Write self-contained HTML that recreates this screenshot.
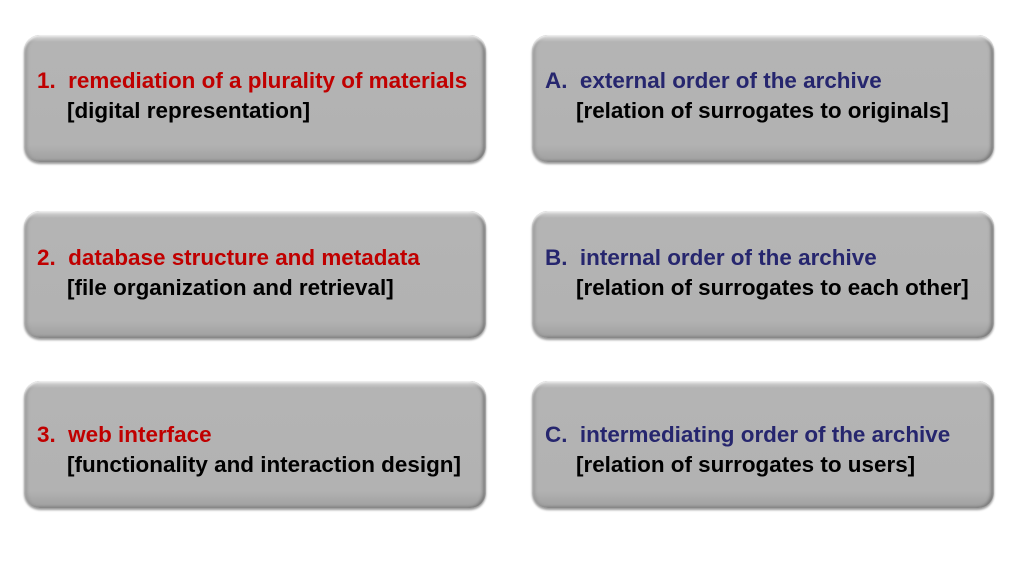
<!DOCTYPE html>
<html><head><meta charset="utf-8">
<style>
body{margin:0;width:1021px;height:572px;background:#fff;position:relative;overflow:hidden;font-family:"Liberation Sans",sans-serif;}
.box{position:absolute;width:462px;height:127px;border-radius:16px;
background:linear-gradient(#d8d8d8 0px,#b4b4b4 7px,#b2b2b2 110px,#a2a2a2 124px,#8a8a8a 127px);
box-shadow:inset 0 2px 2px #f4f4f4, inset -3px 0 3px #777, inset 3px 0 3px #999, 0 2px 2px #999;}
.ln{position:absolute;white-space:nowrap;font-weight:bold;font-size:22px;line-height:30px;transform:scaleX(1.02);transform-origin:0 50%;}
.red{color:#c00000}.blue{color:#26266e}.blk{color:#000}
</style></head><body>
<div class="box" style="left:24px;top:35px">
 <div class="ln red" style="left:13px;top:31px">1.&nbsp;&nbsp;remediation of a plurality of materials</div>
 <div class="ln blk" style="left:43px;top:61px">[digital representation]</div>
</div>
<div class="box" style="left:24px;top:211px">
 <div class="ln red" style="left:13px;top:32px">2.&nbsp;&nbsp;database structure and metadata</div>
 <div class="ln blk" style="left:43px;top:62px">[file organization and retrieval]</div>
</div>
<div class="box" style="left:24px;top:381px">
 <div class="ln red" style="left:13px;top:39px">3.&nbsp;&nbsp;web interface</div>
 <div class="ln blk" style="left:43px;top:69px">[functionality and interaction design]</div>
</div>
<div class="box" style="left:532px;top:35px">
 <div class="ln blue" style="left:13px;top:31px">A.&nbsp;&nbsp;external order of the archive</div>
 <div class="ln blk" style="left:44px;top:61px">[relation of surrogates to originals]</div>
</div>
<div class="box" style="left:532px;top:211px">
 <div class="ln blue" style="left:13px;top:32px">B.&nbsp;&nbsp;internal order of the archive</div>
 <div class="ln blk" style="left:44px;top:62px">[relation of surrogates to each other]</div>
</div>
<div class="box" style="left:532px;top:381px">
 <div class="ln blue" style="left:13px;top:39px">C.&nbsp;&nbsp;intermediating order of the archive</div>
 <div class="ln blk" style="left:44px;top:69px">[relation of surrogates to users]</div>
</div>
</body></html>
